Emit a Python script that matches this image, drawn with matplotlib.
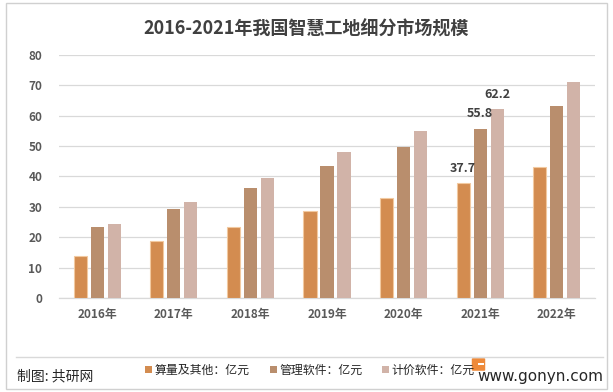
import matplotlib
matplotlib.use("Agg")
import matplotlib.pyplot as plt
import numpy as np
from matplotlib.patches import Rectangle, FancyBboxPatch
from matplotlib.lines import Line2D

plt.rcParams['font.family'] = ['Noto Sans CJK SC', 'DejaVu Sans']

years = ["2016年", "2017年", "2018年", "2019年", "2020年", "2021年", "2022年"]
series_names = ["算量及其他：亿元", "管理软件：亿元", "计价软件：亿元"]
suanliang = [13.9, 18.7, 23.3, 28.7, 33.0, 37.7, 43.2]
guanli = [23.4, 29.4, 36.1, 43.5, 49.8, 55.8, 63.2]
jijia = [24.4, 31.7, 39.5, 48.1, 55.1, 62.2, 71.1]
yticks = [0, 10, 20, 30, 40, 50, 60, 70, 80]

colors = ["#D38C50", "#B98E6D", "#D1B3A8"]
edges = ["#F2C9A0", "none", "none"]

fig = plt.figure(figsize=(6.13, 3.92), dpi=100)
ax = fig.add_axes([0.0963, 0.2398, 0.9706 - 0.0963, 0.8597 - 0.2398])

x = np.arange(len(years))
w = 0.17
step = 0.222
for i, (vals, c, e) in enumerate(zip([suanliang, guanli, jijia], colors, edges)):
    bars = ax.bar(x + (i - 1) * step, vals, width=w, color=c,
                  edgecolor=e, linewidth=0.8 if e != "none" else 0, zorder=3)
    # data label only for 2021
    idx = years.index("2021年")
    b = bars[idx]
    ax.annotate(f"{vals[idx]:.1f}", (b.get_x() + b.get_width() / 2, b.get_height()),
                xytext=(0, 6), textcoords="offset points", ha="center", va="bottom",
                fontsize=9, fontweight="bold", color="#404040", zorder=4)

ax.set_ylim(0, 80)
ax.set_xlim(-0.5, len(years) - 0.5)
ax.set_yticks(yticks)
ax.set_yticklabels([str(v) for v in yticks], fontsize=8.5, fontweight="bold", color="#595959")
ax.set_xticks(x)
ax.set_xticklabels(years, fontsize=8.5, fontweight="bold", color="#595959")
ax.tick_params(axis="both", length=0)
ax.tick_params(axis="y", pad=12)
ax.tick_params(axis="x", pad=7)
ax.grid(axis="y", color="#D9D9D9", linewidth=0.9, zorder=0)
for s in ["top", "right", "left"]:
    ax.spines[s].set_visible(False)
ax.spines["bottom"].set_color("#D9D9D9")
ax.spines["bottom"].set_linewidth(0.9)

# title
fig.text(0.5, 0.925, "2016-2021年我国智慧工地细分市场规模", ha="center", va="center",
         fontsize=13, fontweight="bold", color="#404040")

# outer border
fig.patches.append(Rectangle((0.009, 0.008), 0.982, 0.984, transform=fig.transFigure,
                             fill=False, edgecolor="#D0D0D0", linewidth=1.0))
# footer separator
fig.lines.append(Line2D([0.026, 0.984], [1 - 357 / 392, 1 - 357 / 392], transform=fig.transFigure,
                        color="#D9D9D9", linewidth=1.0))

fy = 1 - 375 / 392
fig.text(0.028, fy - 0.005, "制图: 共研网", ha="left", va="center", fontsize=10, color="#262626")

# legend in footer
leg_x = [145 / 613, 270 / 613, 382 / 613]
for lx, c, name in zip(leg_x, colors, series_names):
    fig.patches.append(Rectangle((lx, fy + 0.012 - 0.007), 0.011, 0.017, transform=fig.transFigure,
                                 facecolor=c, edgecolor="none"))
    fig.text(lx + 0.015, fy + 0.012, name, ha="left", va="center", fontsize=8.6, color="#262626")

# logo (drawn shape) + website
fig.patches.append(FancyBboxPatch((473 / 613, 1 - 370 / 392), 11 / 613, 11 / 392,
                                  boxstyle="round,pad=0.002", transform=fig.transFigure,
                                  facecolor="#EE8A3A", edgecolor="none"))
fig.patches.append(Rectangle((478 / 613, 1 - 365 / 392), 6 / 613, 2.5 / 392, transform=fig.transFigure,
                             facecolor="white", edgecolor="none"))
fig.text(0.985, fy - 0.003, "www.gonyn.com", ha="right", va="center", fontsize=11, color="#262626",
         family="DejaVu Sans")

fig.savefig("out.png", dpi=100)
